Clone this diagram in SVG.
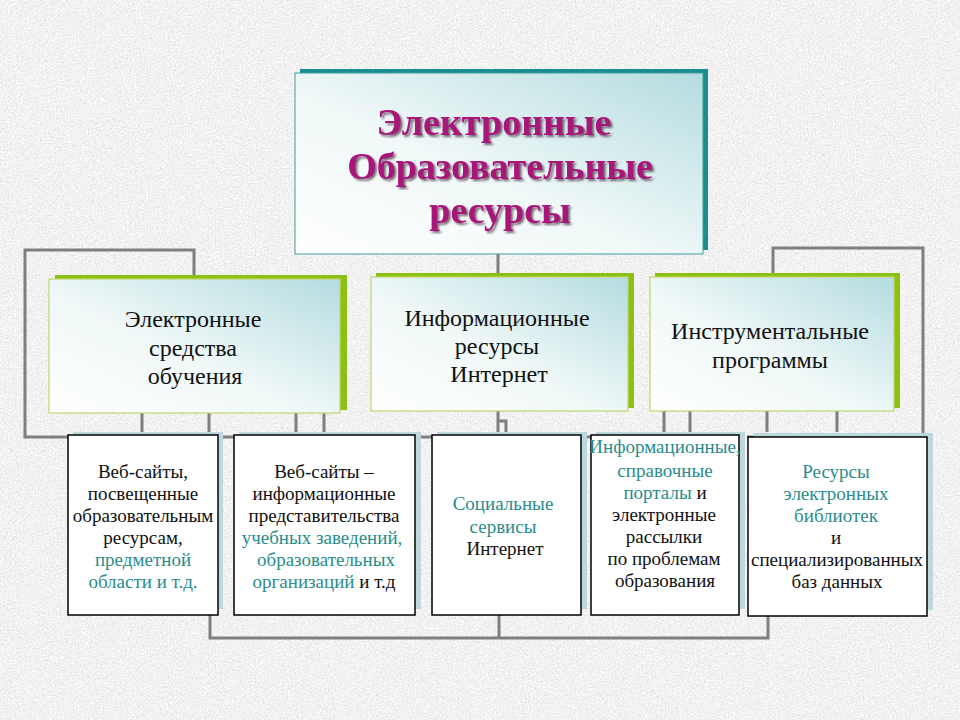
<svg xmlns="http://www.w3.org/2000/svg" width="960" height="720" viewBox="0 0 960 720">
<defs>
<filter id="noise" x="0" y="0" width="100%" height="100%">
<feTurbulence type="fractalNoise" baseFrequency="0.6" numOctaves="3" seed="7" result="n"/>
<feColorMatrix in="n" type="matrix" values="0.33 0.33 0.33 0 0  0.33 0.33 0.33 0 0  0.33 0.33 0.33 0 0  0 0 0 0 1" result="g"/>
<feComponentTransfer in="g">
<feFuncR type="linear" slope="0.7" intercept="0.54"/>
<feFuncG type="linear" slope="0.7" intercept="0.54"/>
<feFuncB type="linear" slope="0.7" intercept="0.54"/>
</feComponentTransfer>
</filter>
<linearGradient id="boxg" x1="0" y1="1" x2="1" y2="0">
<stop offset="0" stop-color="#ffffff"/>
<stop offset="0.45" stop-color="#f0f8f8"/>
<stop offset="1" stop-color="#b4dce0"/>
</linearGradient>
<filter id="tshadow" x="-10%" y="-20%" width="120%" height="150%">
<feDropShadow dx="2" dy="2" stdDeviation="0.8" flood-color="#4a3545" flood-opacity="0.75"/>
</filter>
<style>
.conn{fill:none;stroke:#7f7f7f;stroke-width:3;}
.tshad{fill:#1a8e8e;}
.tbox{fill:url(#boxg);stroke:#3f9c9c;stroke-width:1;}
.gshad{fill:#8cc114;}
.mbox{fill:url(#boxg);stroke:#c2d66a;stroke-width:1.2;}
.bshad{fill:#bcd8dc;}
.bbox{fill:#ffffff;stroke:#000000;stroke-width:1.5;}
.title{font-family:"Liberation Serif","Times New Roman",serif;font-size:38px;font-weight:bold;fill:#a8137a;text-anchor:middle;}
.mid{font-family:"Liberation Serif","Times New Roman",serif;font-size:24px;fill:#111111;text-anchor:middle;}
.sm{font-family:"Liberation Serif","Times New Roman",serif;font-size:19px;fill:#111111;text-anchor:middle;}
.tl{fill:#2a8c8c;}
.bk{fill:#111111;}
</style>
</defs>
<rect width="960" height="720" fill="#e2e2e2"/>
<rect width="960" height="720" filter="url(#noise)"/>

<g id="connectors">
<path class="conn" d="M498,254 V277"/>
<path class="conn" d="M194,278 V250 H25 V437 H591"/>
<path class="conn" d="M773,276 V248 H923 V437 H747"/>
<path class="conn" d="M142,413 V432 M209,413 V432 M296,413 V432 M324,413 V432"/>
<path class="conn" d="M498,411 V432 M498,421 H506 V432"/>
<path class="conn" d="M664,411 V432 M690,411 V432 M767,411 V432 M837,411 V432"/>
<path class="conn" d="M210,615 V638 H768 V616 M499,615 V638"/>
</g>

<g id="root">
<rect class="tshad" x="300" y="69" width="408" height="181"/>
<rect class="tbox" x="295" y="73" width="408" height="181"/>
<g filter="url(#tshadow)">
<text class="title" x="494" y="135">Электронные</text>
<text class="title" x="500" y="179">Образовательные</text>
<text class="title" x="500" y="223">ресурсы</text>
</g>
</g>

<g id="esr">
<rect class="gshad" x="55" y="275" width="292" height="135"/>
<rect class="mbox" x="49" y="279" width="291" height="134"/>
<text class="mid" x="193" y="327">Электронные</text>
<text class="mid" x="193" y="356">средства</text>
<text class="mid" x="195" y="384">обучения</text>
</g>

<g id="iri">
<rect class="gshad" x="376" y="273" width="258" height="135"/>
<rect class="mbox" x="371" y="277" width="257" height="134"/>
<text class="mid" x="497" y="326">Информационные</text>
<text class="mid" x="497" y="354">ресурсы</text>
<text class="mid" x="499" y="382">Интернет</text>
</g>

<g id="ip">
<rect class="gshad" x="655" y="273" width="245" height="135"/>
<rect class="mbox" x="650" y="277" width="244" height="134"/>
<text class="mid" x="770" y="339">Инструментальные</text>
<text class="mid" x="770" y="368">программы</text>
</g>

<g id="web1">
<rect class="bshad" x="73" y="432" width="150" height="177"/>
<rect class="bbox" x="68" y="435" width="150" height="180"/>
<text class="sm" x="143" y="478">Веб-сайты,</text>
<text class="sm" x="143" y="500">посвещенные</text>
<text class="sm" x="143" y="522">образовательным</text>
<text class="sm" x="143" y="544">ресурсам,</text>
<text class="sm tl" x="143" y="566">предметной</text>
<text class="sm tl" x="143" y="588">области и т.д.</text>
</g>

<g id="web2">
<rect class="bshad" x="239" y="432" width="182" height="177"/>
<rect class="bbox" x="234" y="435" width="181" height="180"/>
<text class="sm" x="324" y="478">Веб-сайты –</text>
<text class="sm" x="324" y="500">информационные</text>
<text class="sm" x="324" y="522">представительства</text>
<text class="sm tl" x="322" y="544">учебных заведений,</text>
<text class="sm tl" x="326" y="566">образовательных</text>
<text class="sm" x="324" y="588"><tspan class="tl">организаций</tspan><tspan class="bk"> и т.д</tspan></text>
</g>

<g id="social">
<rect class="bshad" x="437" y="432" width="150" height="177"/>
<rect class="bbox" x="432" y="435" width="149" height="180"/>
<text class="sm tl" x="503" y="510">Социальные</text>
<text class="sm tl" x="503" y="533">сервисы</text>
<text class="sm" x="505" y="555">Интернет</text>
</g>

<g id="portals">
<rect class="bshad" x="596" y="432" width="149" height="177"/>
<rect class="bbox" x="591" y="435" width="148" height="180"/>
<text class="sm tl" x="665" y="453">Информационные,</text>
<text class="sm tl" x="665" y="477">справочные</text>
<text class="sm" x="665" y="499"><tspan class="tl">порталы</tspan><tspan class="bk"> и</tspan></text>
<text class="sm" x="664" y="521">электронные</text>
<text class="sm" x="664" y="543">рассылки</text>
<text class="sm" x="664" y="565">по проблемам</text>
<text class="sm" x="665" y="587">образования</text>
</g>

<g id="libs">
<rect class="bshad" x="753" y="433" width="180" height="177"/>
<rect class="bbox" x="748" y="437" width="179" height="179"/>
<text class="sm tl" x="836" y="478">Ресурсы</text>
<text class="sm tl" x="836" y="500">электронных</text>
<text class="sm tl" x="836" y="522">библиотек</text>
<text class="sm" x="836" y="544">и</text>
<text class="sm" x="837" y="566">специализированных</text>
<text class="sm" x="837" y="588">баз данных</text>
</g>
</svg>
